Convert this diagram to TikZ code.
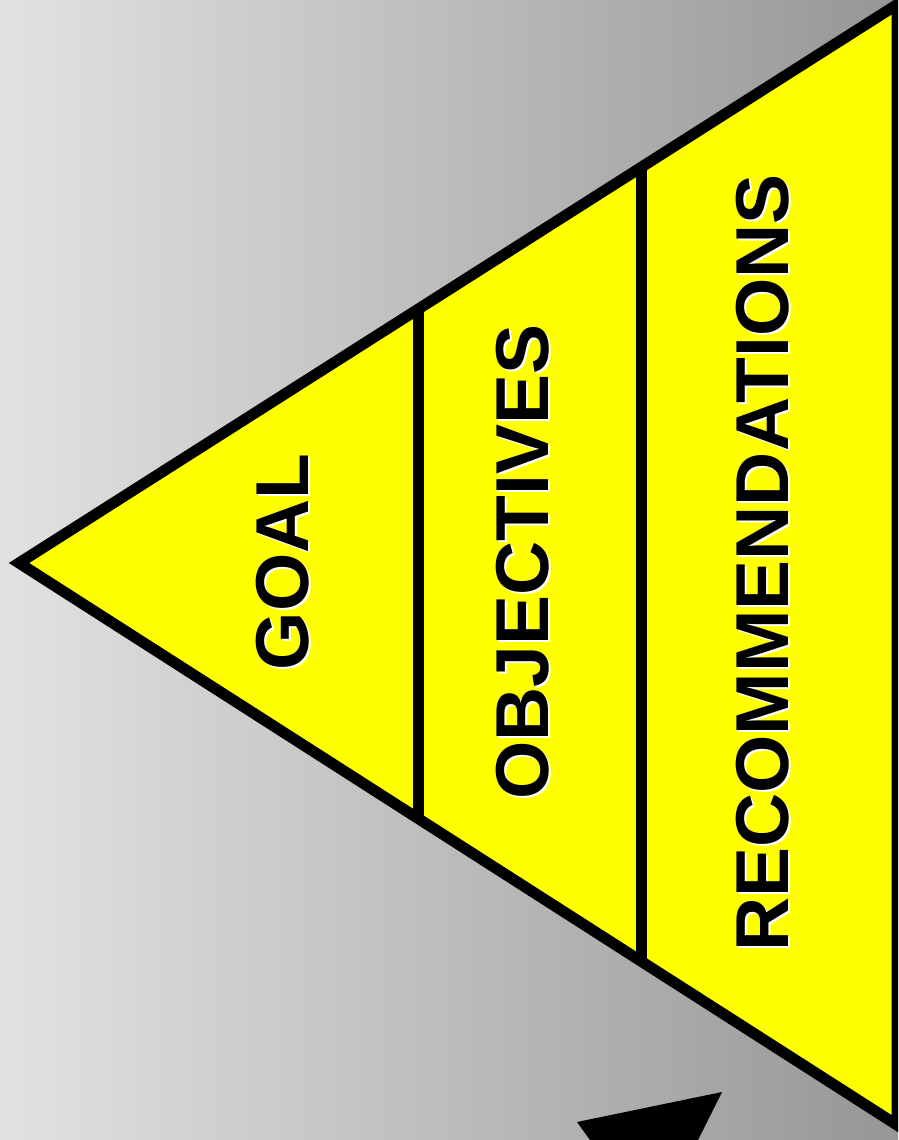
\documentclass[tikz,border=0pt]{standalone}
\usepackage{fontspec}
\setmainfont{Liberation Sans}
\definecolor{bgleft}{RGB}{226,226,226}
\definecolor{bgright}{RGB}{150,150,150}
\definecolor{funnel}{RGB}{255,255,0}
\tikzset{
  edge/.style={line width=11pt, line join=miter, miter limit=20},
  lbl/.style={font=\bfseries\fontsize{75}{75}\selectfont, rotate=90, inner sep=0pt, anchor=center},
}
\newcommand{\shadowed}[3]{%
  \node[lbl, text=white] (#1s) at ([shift={(2pt,-2pt)}]#2) {#3};
  \node[lbl, text=black] (#1) at (#2) {#3};
}
\begin{document}
\begin{tikzpicture}[x=1pt,y=-1pt]
\useasboundingbox (0,0) rectangle (898,1140);
\clip (0,0) rectangle (898,1140);
\shade[left color=bgleft, right color=bgright] (0,0) rectangle (898,1140);
% funnel shape
\coordinate (apex) at (19,563);
\coordinate (tr) at (897,4.6);
\coordinate (br) at (897,1125);
\coordinate (d1t) at (418,309);
\coordinate (d1b) at (418,819);
\coordinate (d2t) at (641,167);
\coordinate (d2b) at (641,962);
\fill[funnel] (apex) -- (tr) -- (br) -- cycle;
\draw[edge] (d1t) -- (d1b);
\draw[edge] (d2t) -- (d2b);
\draw[edge] (apex) -- (tr) -- (br) -- cycle;
% labels
\shadowed{goal}{283,562}{GOAL}
\shadowed{obj}{523,562}{OBJECTIVES}
\shadowed{rec}{763,563}{RECOMMENDATIONS}
% arrow head at bottom
\fill[black] (577,1122) -- (722,1092) -- (691,1154) -- (600,1154) -- cycle;
\end{tikzpicture}
\end{document}
